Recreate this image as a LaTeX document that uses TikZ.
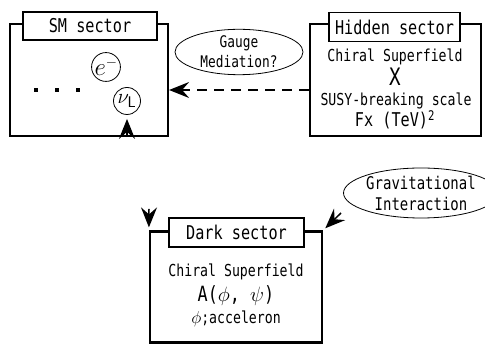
\documentclass[tikz,border=0pt]{standalone}
\usepackage{fontspec}
\usepackage{tikz}
\usetikzlibrary{shapes.geometric,arrows.meta}
\newfontfamily\gothic[FakeStretch=0.8]{DejaVu Sans Mono}
\newcommand{\fs}[1]{\fontsize{#1}{#1}\selectfont}

\tikzset{
  sector/.style={draw,line width=2.2pt,inner sep=0pt},
  sectortitle/.style={draw,fill=white,line width=1.5pt,inner sep=0pt,font=\gothic\fs{19}},
  particle/.style={circle,draw,line width=0.8pt,inner sep=0pt,minimum size=27pt},
  bubble/.style={ellipse,draw,line width=0.8pt,inner sep=0pt,align=center},
  content/.style={font=\gothic\fs{16.5},inner sep=0pt},
  arrowtip/.style={-{Stealth[length=20pt,width=16pt,inset=7pt]},line width=1.5pt}
}

\begin{document}
\begin{tikzpicture}[x=1pt,y=-1pt]
  \useasboundingbox (0,0) rectangle (485,344);

  % SM sector
  \node[sector,minimum width=158pt,minimum height=112pt] (sm) at (89,80) {};
  \node[sectortitle,minimum width=134pt,minimum height=28pt] (smtitle) at (90,26) {SM sector};
  \node[particle,font=\fs{27}] (e) at (106,67) {$e^{\scriptscriptstyle -}$};
  \node[particle,font=\fs{22}] (nu) at (127,101) {$\nu_{\mathsf{L}}$};
  \node[inner sep=0pt] (dots) at (57,90) {\rule{4pt}{4pt}\hspace{17pt}\rule{4pt}{4pt}\hspace{17pt}\rule{4pt}{4pt}};

  % Hidden sector
  \node[sector,minimum width=171pt,minimum height=112pt] (hidden) at (395.5,80) {};
  \node[sectortitle,minimum width=131pt,minimum height=29pt] (hiddentitle) at (394.5,27) {Hidden sector};
  \node[content] (hchiral) at (395,57) {Chiral Superfield};
  \node[content,font=\gothic\fs{24}] (x) at (395,77) {X};
  \node[content] (susy) at (396,101) {SUSY-breaking scale};
  \node[content,font=\gothic\fs{19}] (fx) at (395,120) {Fx (TeV)\textsuperscript{2}};

  % Dark sector
  \node[sector,minimum width=172pt,minimum height=111pt] (dark) at (236,287) {};
  \node[sectortitle,minimum width=135pt,minimum height=29pt] (darktitle) at (236.5,232.5) {Dark sector};
  \node[content] (dchiral) at (236,272) {Chiral Superfield};
  \node[content,font=\gothic\fs{21}] (afield) at (236,296) {A($\phi$, $\psi$)};
  \node[content] (acceleron) at (236,319) {$\phi$;acceleron};

  % interactions
  \node[bubble,minimum width=128pt,minimum height=40pt,font=\gothic\fontsize{16}{20}\selectfont] (gauge) at (239,52) {Gauge\\Mediation?};
  \node[bubble,minimum width=126pt,minimum height=50pt,font=\gothic\fontsize{17.5}{21}\selectfont] (grav) at (421,193) {Gravitational\\Interaction};

  \coordinate (darkleft) at (149,209);
  \coordinate (darkright) at (341,213);

  \draw[arrowtip,dashed,dash pattern=on 10pt off 7pt] (hidden.west |- dots) to (sm.east |- dots);
  \draw[arrowtip,shorten >=4pt] (sm.south -| nu) to (nu.south);
  \draw[arrowtip,shorten >=3pt] (darkleft) to (dark.north west);
  \draw[arrowtip,shorten >=3pt] (darkright) to (dark.north east);
\end{tikzpicture}
\end{document}
